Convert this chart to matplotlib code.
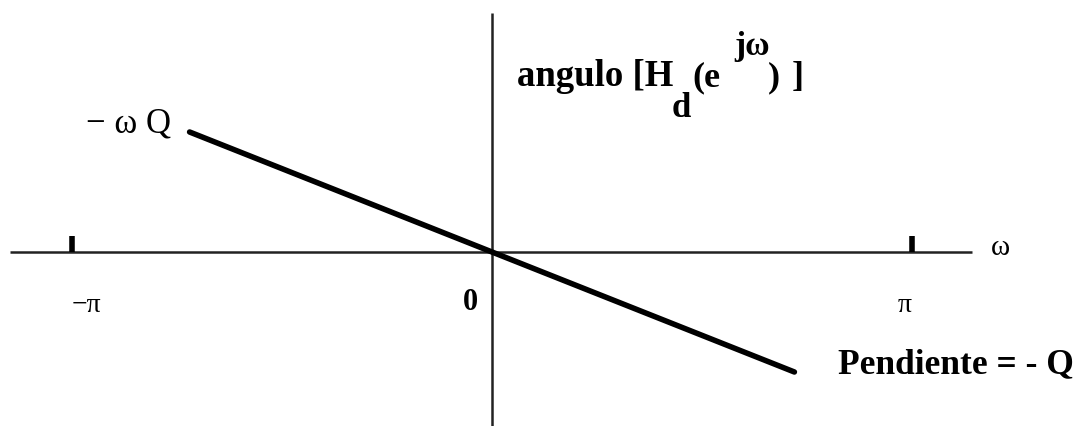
import numpy as np
import matplotlib
matplotlib.use("Agg")
import matplotlib.pyplot as plt

# ---- data ----
Q = 1.0
omega_line = [-0.72 * np.pi, 0.72 * np.pi]
phase_line = [-Q * w for w in omega_line]
tick_positions = [-np.pi, 0.0, np.pi]
tick_labels = ["−π", "0", "π"]

# ---- layout helpers (pixel -> data) ----
W, H = 1078, 427
X0, Y0 = 492, 253          # origin in pixels
SX = 420 / np.pi           # px per unit in x
SY = 53.05                 # px per unit in y
def X(px):
    return (px - X0) / SX
def Y(py):
    return (Y0 - py) / SY

fig = plt.figure(figsize=(W / 100, H / 100), dpi=100)
ax = fig.add_axes([0, 0, 1, 1])
ax.set_xlim(X(0), X(W))
ax.set_ylim(Y(H), Y(0))
ax.axis("off")

serif = ["Liberation Serif", "DejaVu Serif"]

# axes
ax.plot([X(10), X(972)], [0, 0], color="#222222", lw=1.8, solid_capstyle="butt")
ax.plot([0, 0], [Y(14), Y(427)], color="#222222", lw=1.8, solid_capstyle="butt")

# ticks at +-pi
for t in (tick_positions[0], tick_positions[2]):
    ax.plot([t, t], [0, Y(237)], color="black", lw=4, solid_capstyle="butt")

# phase line
ax.plot(omega_line, phase_line, color="black", lw=4, solid_capstyle="round")

# tick labels
ax.text(X(86), Y(306), tick_labels[0], family=serif, fontsize=20, ha="center", va="center")
ax.text(X(470), Y(302), tick_labels[1], family=serif, fontsize=22, fontweight="bold",
        ha="center", va="center")
ax.text(X(905), Y(306), tick_labels[2], family=serif, fontsize=20, ha="center", va="center")

# omega axis label
ax.text(X(1000), Y(248), "ω", family=serif, fontsize=21, ha="center", va="center")

# -wQ label
ax.text(X(128), Y(124), "− ω Q", family=serif, fontsize=25, ha="center", va="center")

# title pieces: angulo [H_d(e^{jω})]
base = Y(86)
ax.text(X(517), base, "angulo [H", family=serif, fontsize=26.5, fontweight="bold",
        ha="left", va="baseline")
ax.text(X(681), Y(117), "d", family=serif, fontsize=25, fontweight="bold",
        ha="center", va="baseline")
ax.text(X(692), base, "(e", family=serif, fontsize=26, fontweight="bold",
        ha="left", va="baseline")
ax.text(X(752), Y(55), "jω", family=serif, fontsize=24, fontweight="bold",
        ha="center", va="baseline")
ax.text(X(768), base, ")", family=serif, fontsize=26, fontweight="bold",
        ha="left", va="baseline")
ax.text(X(792), base, "]", family=serif, fontsize=26, fontweight="bold",
        ha="left", va="baseline")

# slope label
ax.text(X(838), Y(373), "Pendiente = - Q", family=serif, fontsize=25.5, fontweight="bold",
        ha="left", va="baseline")

fig.savefig("out.png", dpi=100)
